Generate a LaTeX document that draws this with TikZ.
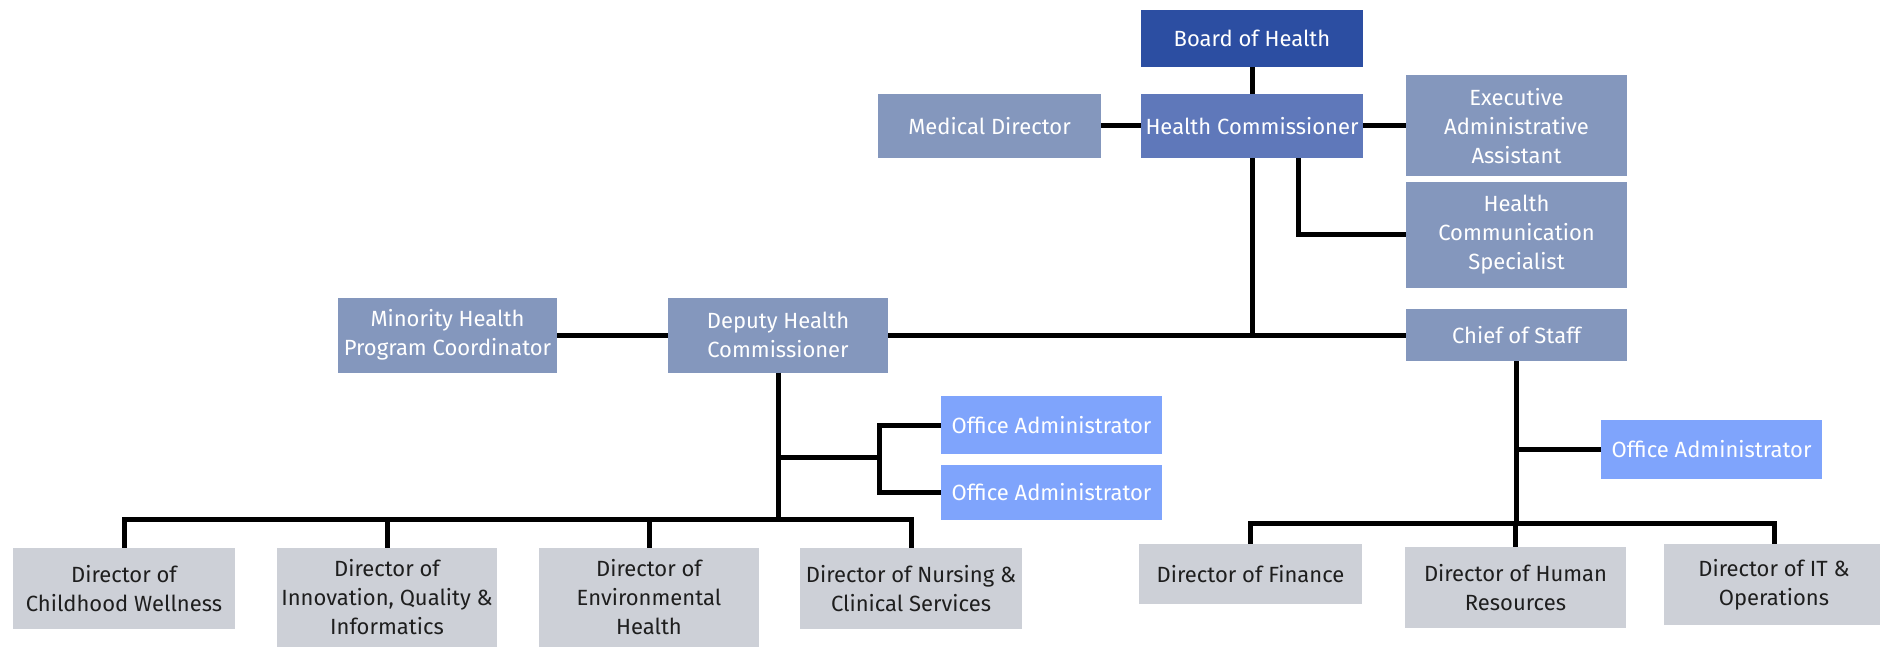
\documentclass[tikz,border=0pt]{standalone}
\usepackage{fontspec}
\setmainfont{Fira Sans}
\definecolor{boardc}{HTML}{2C4EA2}
\definecolor{hcc}{HTML}{5F78BA}
\definecolor{midc}{HTML}{8497BD}
\definecolor{oac}{HTML}{7FA4FC}
\definecolor{grayc}{HTML}{CDD0D7}
\definecolor{darktext}{HTML}{1E1E1E}
\begin{document}
\begin{tikzpicture}[x=1pt,y=-1pt,
  box/.style={rectangle, inner sep=0pt, align=center, text=white,
    font=\fontsize{22}{29}\selectfont},
  boardbox/.style={box, fill=boardc},
  hcbox/.style={box, fill=hcc},
  midbox/.style={box, fill=midc},
  oabox/.style={box, fill=oac},
  dirbox/.style={box, fill=grayc, text=darktext},
  link/.style={draw=black, line width=5pt, line join=miter}]
\useasboundingbox (0,0) rectangle (1880,647);

% top level
\node[boardbox, minimum width=222, minimum height=57] (board) at (1252,38.5) {Board of Health};
\node[hcbox, minimum width=222, minimum height=64] (hc) at (1252,126) {Health Commissioner};
\node[midbox, minimum width=223, minimum height=64] (med) at (989.5,126) {Medical Director};
\node[midbox, minimum width=221, minimum height=101] (exec) at (1516.5,126) {Executive\\Administrative\\Assistant};
\node[midbox, minimum width=221, minimum height=106] (hcs) at (1516.5,235) {Health\\Communication\\Specialist};
\node[midbox, minimum width=221, minimum height=52] (chief) at (1516.5,335) {Chief of Staff};
\node[midbox, minimum width=219, minimum height=75] (minority) at (447.5,335) {Minority Health\\Program Coordinator};
\node[midbox, minimum width=220, minimum height=75] (deputy) at (778,335) {Deputy Health\\Commissioner};

% office administrators
\node[oabox, minimum width=221, minimum height=58] (oa1) at (1051.5,425) {Office Administrator};
\node[oabox, minimum width=221, minimum height=55] (oa2) at (1051.5,492.5) {Office Administrator};
\node[oabox, minimum width=221, minimum height=59] (oa3) at (1711.5,449.5) {Office Administrator};

% directors
\node[dirbox, minimum width=222, minimum height=81] (d1) at (124,588.5) {Director of\\Childhood Wellness};
\node[dirbox, minimum width=220, minimum height=99] (d2) at (387,597.5) {Director of\\Innovation, Quality \&\\Informatics};
\node[dirbox, minimum width=220, minimum height=99] (d3) at (649,597.5) {Director of\\Environmental\\Health};
\node[dirbox, minimum width=222, minimum height=81] (d4) at (911,588.5) {Director of Nursing \&\\Clinical Services};
\node[dirbox, minimum width=223, minimum height=60] (fin) at (1250.5,574) {Director of Finance};
\node[dirbox, minimum width=221, minimum height=81] (hr) at (1515.5,587.5) {Director of Human\\Resources};
\node[dirbox, minimum width=220, minimum height=81] (it) at (1774,584.5) {Director of IT \&\\Operations};

% junction coordinates
\coordinate (hcsj) at (1298,235);
\coordinate (dbus) at (778,519);
\coordinate (obr) at (879,457);
\coordinate (cbus) at (1515.5,523);

% connectors: top
\draw[link] (board.south) -- (hc.north);
\draw[link] (med.east) -- (hc.west);
\draw[link] (hc.east) -- (exec.west);
\draw[link] (hc.south -| hcsj) -- (hcsj) -- (hcs.west);
\draw[link] (hc.south) -- (hc.south |- chief.west);
\draw[link] (deputy.east) -- (chief.west);
\draw[link] (minority.east) -- (deputy.west);

% deputy branch
\draw[link] (deputy.south) -- (deputy.south |- dbus);
\draw[link] (deputy.south |- obr) -- (obr);
\draw[link] (oa1.west) -| (obr) |- (oa2.west);
\draw[link] (d1.north) -- (d1.north |- dbus) -- (d4.north |- dbus) -- (d4.north);
\draw[link] (d2.north) -- (d2.north |- dbus);
\draw[link] (d3.north) -- (d3.north |- dbus);

% chief branch
\draw[link] (chief.south) -- (chief.south |- cbus);
\draw[link] (chief.south |- oa3.west) -- (oa3.west);
\draw[link] (fin.north) -- (fin.north |- cbus) -- (it.north |- cbus) -- (it.north);
\draw[link] (hr.north) -- (hr.north |- cbus);
\end{tikzpicture}
\end{document}
